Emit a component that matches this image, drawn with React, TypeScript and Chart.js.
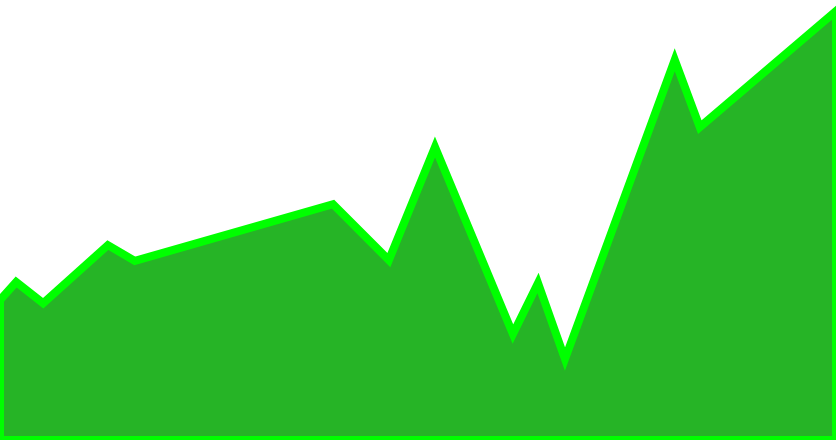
import { useEffect, useRef } from 'react';
import { Chart, registerables } from 'chart.js';

Chart.register(...registerables);

// day offsets and values
const days = [0, 6, 16, 40, 50, 123.5, 144.2, 161.3, 190.2, 199.5, 209.5, 250.2, 259.5, 310];
const values = [31.8, 35.9, 31.1, 44.3, 40.7, 53.6, 40.9, 66.6, 24.1, 35.7, 18.4, 86.4, 71.1, 97.5];

const X_MAX = 310;
const Y_MAX = 100;

const FILL = '#26b426';
const LINE = '#00ff00';

export default function App() {
  const canvasRef = useRef<HTMLCanvasElement | null>(null);
  const chartRef = useRef<Chart<'line'> | null>(null);

  useEffect(() => {
    document.body.style.margin = '0';
    if (!canvasRef.current) return;
    if (chartRef.current) chartRef.current.destroy();

    // closed outline: drop to the base at both ends
    const area = [
      { x: days[0], y: 0 },
      ...days.map((d, i) => ({ x: d, y: values[i] })),
      { x: days[days.length - 1], y: 0 }
    ];
    const base = [
      { x: days[0], y: 0 },
      { x: days[days.length - 1], y: 0 }
    ];

    chartRef.current = new Chart(canvasRef.current, {
      type: 'line',
      data: {
        datasets: [
          {
            label: 'value',
            data: area,
            borderColor: LINE,
            backgroundColor: FILL,
            borderWidth: 8,
            fill: 'origin',
            tension: 0,
            pointRadius: 0,
            borderJoinStyle: 'miter',
            order: 1
          },
          {
            label: 'base',
            data: base,
            borderColor: LINE,
            borderWidth: 8,
            fill: false,
            pointRadius: 0,
            order: 0
          }
        ]
      },
      options: {
        animation: false,
        responsive: true,
        maintainAspectRatio: false,
        layout: { padding: 0 },
        scales: {
          x: { type: 'linear', min: 0, max: X_MAX, display: false },
          y: { min: 0, max: Y_MAX, display: false }
        },
        plugins: {
          legend: { display: false },
          tooltip: { enabled: false }
        }
      }
    });

    return () => {
      if (chartRef.current) {
        chartRef.current.destroy();
        chartRef.current = null;
      }
    };
  }, []);

  return (
    <div style={{ position: 'absolute', left: 0, top: 0, width: '836px', height: '440px' }}>
      <canvas ref={canvasRef} aria-label="Area chart" />
    </div>
  );
}
